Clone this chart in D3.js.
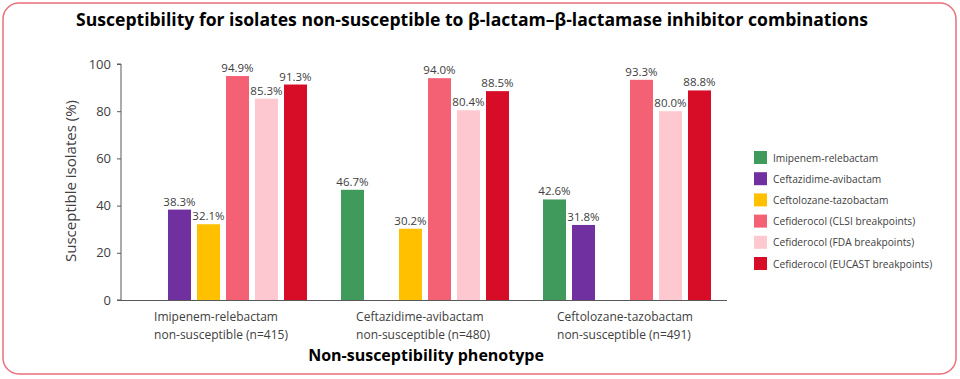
<!DOCTYPE html>
<html><head><meta charset="utf-8">
<script src="https://cdn.jsdelivr.net/npm/d3@7"></script>
<style>
body{margin:0;background:#fff;}
svg{display:block;font-family:"Open Sans","Noto Sans",sans-serif;}
</style></head><body>
<svg id="chart" width="960" height="379"></svg>
<script>
const groups = ["Imipenem-relebactam|non-susceptible (n=415)", "Ceftazidime-avibactam|non-susceptible (n=480)", "Ceftolozane-tazobactam|non-susceptible (n=491)"];
const series = ["Imipenem-relebactam", "Ceftazidime-avibactam", "Ceftolozane-tazobactam", "Cefiderocol (CLSI breakpoints)", "Cefiderocol (FDA breakpoints)", "Cefiderocol (EUCAST breakpoints)"];
const colors = ["#3f9a5c", "#7030a0", "#ffc000", "#f46174", "#fec8d0", "#d70c27"];
const imipenemRelebactam = [null, 46.7, 42.6];
const ceftazidimeAvibactam = [38.3, null, 31.8];
const ceftolozaneTazobactam = [32.1, 30.2, null];
const cefiderocolCLSI = [94.9, 94.0, 93.3];
const cefiderocolFDA = [85.3, 80.4, 80.0];
const cefiderocolEUCAST = [91.3, 88.5, 88.8];
const yTicks = [0, 20, 40, 60, 80, 100];
const seriesValues = [imipenemRelebactam, ceftazidimeAvibactam, ceftolozaneTazobactam, cefiderocolCLSI, cefiderocolFDA, cefiderocolEUCAST];

const svg = d3.select("#chart");
svg.append("rect").attr("x", 3).attr("y", 3).attr("width", 953).attr("height", 371)
  .attr("rx", 16).attr("ry", 16).attr("fill", "#fff").attr("stroke", "#e9707c").attr("stroke-width", 1.5);

svg.append("text").attr("x", 472).attr("y", 26).attr("text-anchor", "middle")
  .attr("font-size", 17).attr("font-weight", 700).attr("fill", "#000")
  .attr("textLength", 792).attr("lengthAdjust", "spacingAndGlyphs")
  .text("Susceptibility for isolates non-susceptible to β-lactam–β-lactamase inhibitor combinations");

const x0 = d3.scaleBand().domain(groups).range([121, 727]).padding(0);
const x1 = d3.scaleBand().domain(series).range([18, 186]).paddingInner(6/29).paddingOuter(0);
const y = d3.scaleLinear().domain([0, 100]).range([300, 64]);

const yAxis = svg.append("g").attr("transform", "translate(121,0)")
  .call(d3.axisLeft(y).tickValues(yTicks).tickSize(4).tickPadding(6));
yAxis.select(".domain").attr("stroke", "#595959").attr("d", "M-4,64H0V300H-4");
yAxis.selectAll(".tick line").attr("stroke", "#595959");
yAxis.selectAll(".tick text").attr("font-size", 13).attr("fill", "#404040").attr("font-family", "'Open Sans',sans-serif");

svg.append("line").attr("x1", 121).attr("x2", 727).attr("y1", 300.5).attr("y2", 300.5).attr("stroke", "#595959");

const bars = [];
groups.forEach((g, gi) => series.forEach((s, si) => {
  const v = seriesValues[si][gi];
  if (v != null) bars.push({g, s, si, v});
}));

svg.selectAll("rect.bar").data(bars).join("rect").attr("class", "bar")
  .attr("x", d => x0(d.g) + x1(d.s)).attr("width", x1.bandwidth())
  .attr("y", d => y(d.v)).attr("height", d => y(0) - y(d.v))
  .attr("fill", d => colors[d.si]);

svg.selectAll("text.val").data(bars).join("text").attr("class", "val")
  .attr("x", d => x0(d.g) + x1(d.s) + x1.bandwidth() / 2).attr("y", d => y(d.v) - 4)
  .attr("text-anchor", "middle").attr("font-size", 11.5).attr("fill", "#404040")
  .text(d => d.v.toFixed(1) + "%");

groups.forEach(g => {
  const lines = g.split("|");
  const t = svg.append("text").attr("font-size", 12).attr("fill", "#404040");
  lines.forEach((l, i) => t.append("tspan").attr("y", 321 + i * 18).text(l));
  const w = d3.max(t.selectAll("tspan").nodes(), n => n.getComputedTextLength());
  const cx = x0(g) + x0.bandwidth() / 2 - 1;
  t.selectAll("tspan").attr("x", cx - w / 2);
});

svg.append("text").attr("x", 426).attr("y", 361).attr("text-anchor", "middle")
  .attr("font-size", 16).attr("font-weight", 700).attr("fill", "#000")
  .text("Non-susceptibility phenotype");

svg.append("text").attr("transform", "translate(76,181) rotate(-90)").attr("text-anchor", "middle")
  .attr("font-size", 15).attr("fill", "#404040").text("Susceptible isolates (%)");

const leg = svg.append("g").attr("transform", "translate(754,151)");
series.forEach((s, i) => {
  const r = leg.append("g").attr("transform", `translate(0,${i * 21.2})`);
  r.append("rect").attr("width", 13).attr("height", 13).attr("fill", colors[i]);
  r.append("text").attr("x", 19).attr("y", 10.5).attr("font-size", 10.2).attr("fill", "#404040").text(s);
});
</script></body></html>
